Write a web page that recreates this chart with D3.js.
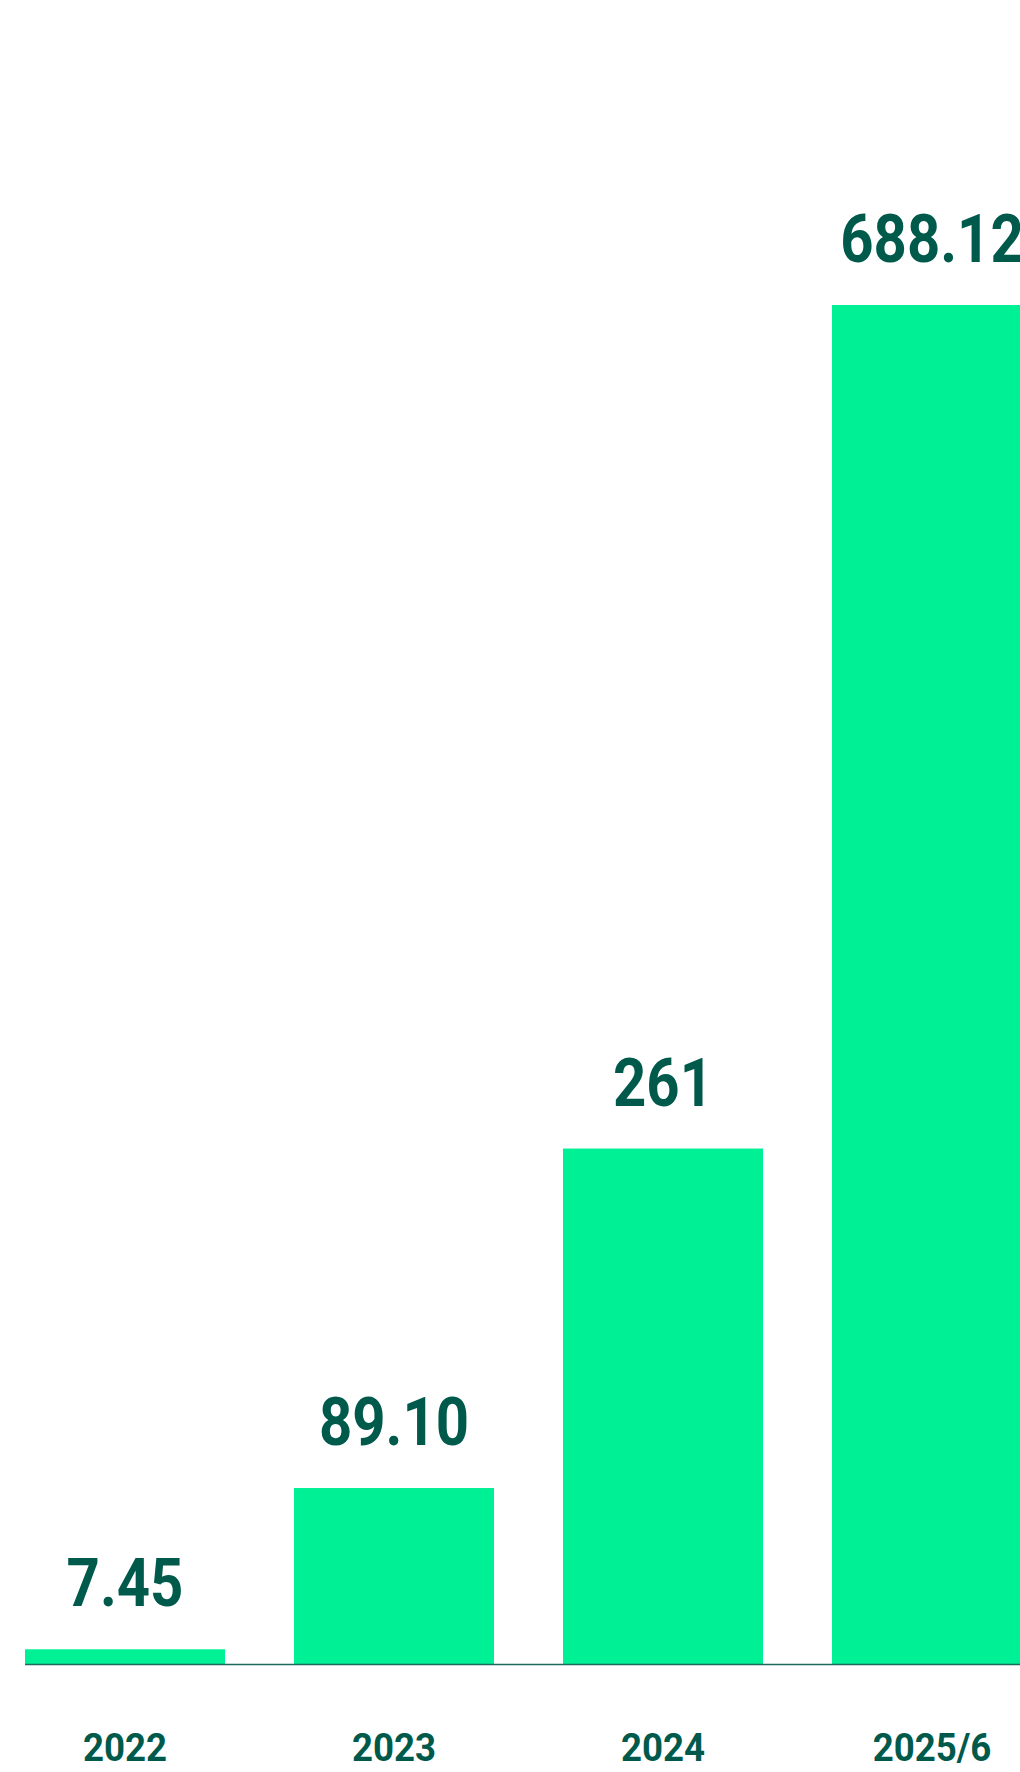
<!DOCTYPE html>
<html>
<head>
<meta charset="utf-8">
<script src="https://cdn.jsdelivr.net/npm/d3@7"></script>
<style>
  html, body { margin: 0; padding: 0; background: #ffffff; }
  svg { display: block; }
</style>
</head>
<body>
<div id="chart"></div>
<script>
const categories = ["2022", "2023", "2024", "2025/6"];
const values = [7.45, 89.10, 261, 688.12];
const valueLabels = ["7.45", "89.10", "261", "688.12"];

const W = 1020, H = 1772;
const barColor = "#00F095";
const textColor = "#005A4C";

const svg = d3.select("#chart").append("svg")
  .attr("width", W).attr("height", H);

const x = d3.scaleBand()
  .domain(categories)
  .range([25, 1032])
  .paddingInner(0.2565)
  .paddingOuter(0);

const y = d3.scaleLinear()
  .domain([0, 688.12])
  .range([1664, 305]);

const data = categories.map((c, i) => ({ c, v: values[i], label: valueLabels[i] }));

svg.append("g").selectAll("rect")
  .data(data).join("rect")
  .attr("x", d => x(d.c))
  .attr("y", d => y(d.v))
  .attr("width", x.bandwidth())
  .attr("height", d => y(0) - y(d.v))
  .attr("fill", barColor);

// baseline axis
const axis = svg.append("g")
  .attr("transform", `translate(0,${y(0)})`)
  .call(d3.axisBottom(x).tickSize(0).tickPadding(0).tickFormat(() => ""));
axis.select(".domain")
  .attr("d", `M25,0.5H${W}`)
  .attr("stroke", "#1B6A5D")
  .attr("stroke-width", 1.6);

// category labels
svg.append("g").selectAll("text")
  .data(data).join("text")
  .attr("transform", d => `translate(${x(d.c) + x.bandwidth() / 2},1761) scale(0.94,1)`)
  .attr("text-anchor", "middle")
  .attr("font-family", "Roboto, 'DejaVu Sans', sans-serif")
  .attr("font-weight", 700)
  .attr("font-size", 39)
  .attr("fill", textColor)
  .text(d => d.c);

// value labels
svg.append("g").selectAll("text")
  .data(data).join("text")
  .attr("transform", d => `translate(${x(d.c) + x.bandwidth() / 2},${y(d.v) - 43}) scale(0.88,1)`)
  .attr("text-anchor", "middle")
  .attr("font-family", "Roboto, 'DejaVu Sans', sans-serif")
  .attr("font-weight", 700)
  .attr("font-size", 66)
  .attr("fill", textColor)
  .text(d => d.label);
</script>
</body>
</html>
